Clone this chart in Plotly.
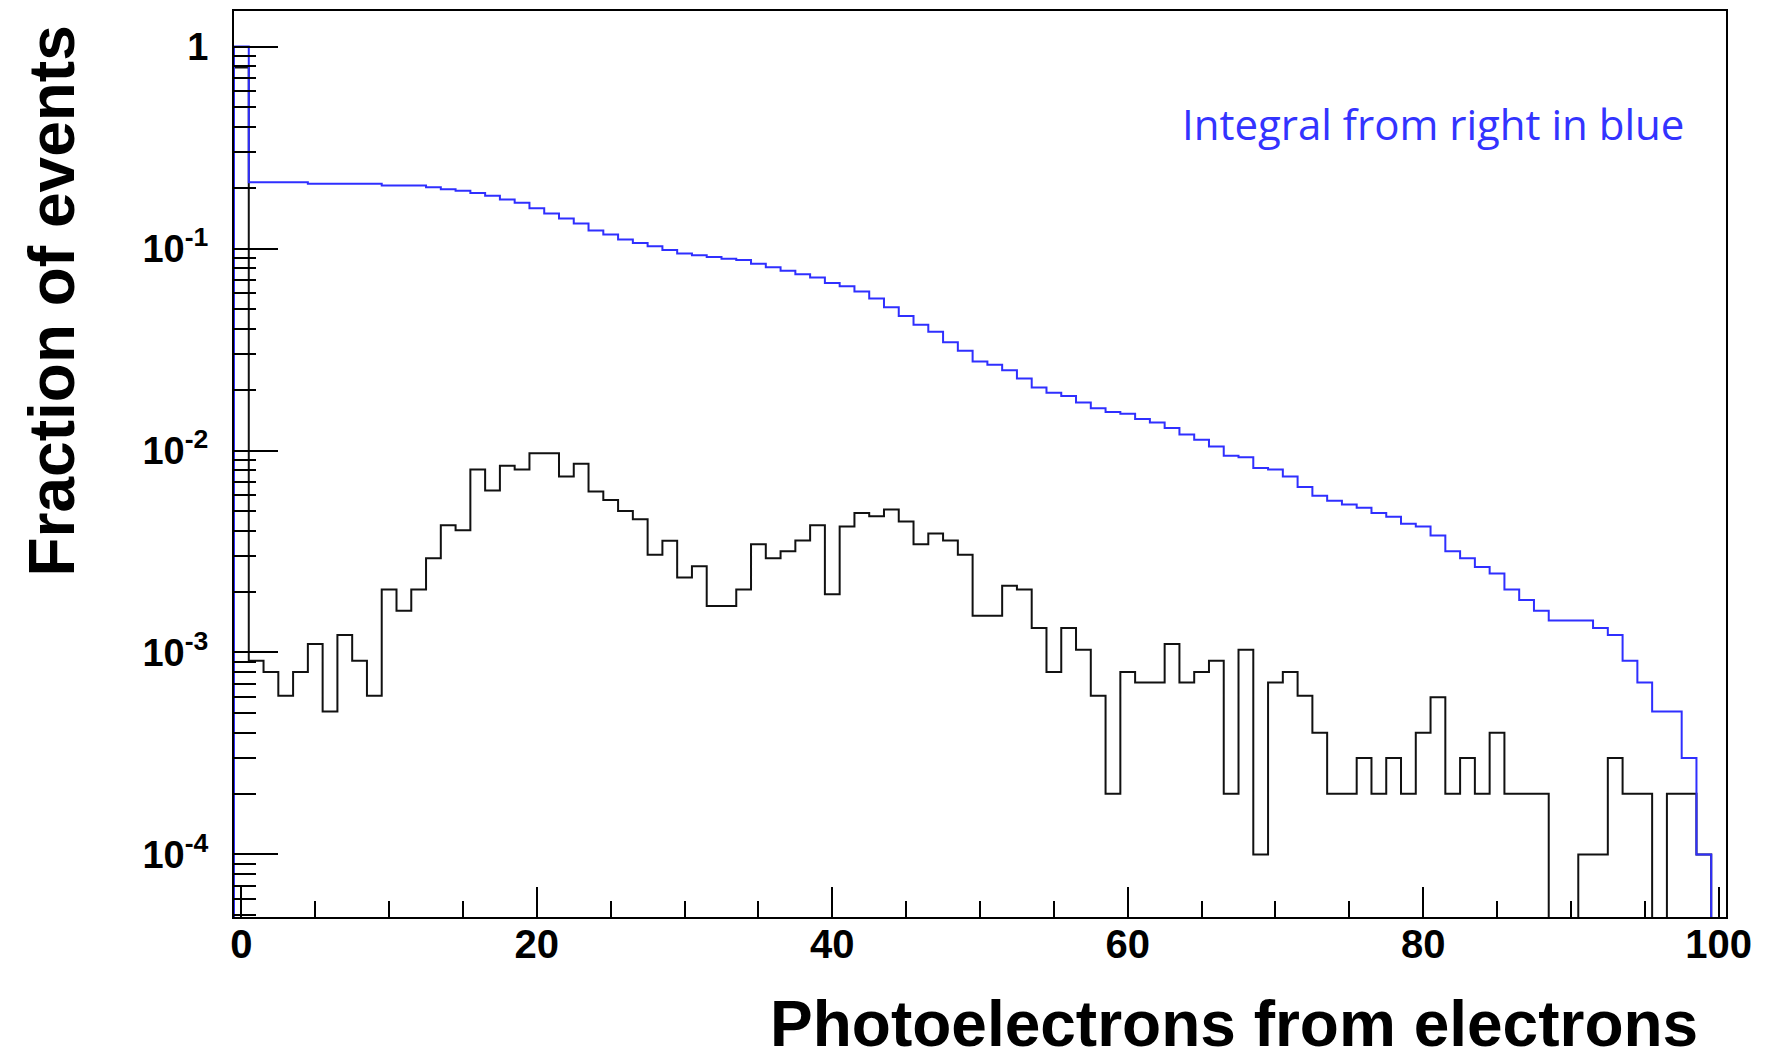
import numpy as np
import plotly.graph_objects as go

# ---------------- data ----------------
# bin centres 0..100, bin width 1
bin_centers = list(range(0, 101))

# Fraction of events per bin (black histogram)
fraction = [
    0.787, 9.1e-4, 8.0e-4, 6.1e-4, 8.0e-4, 1.1e-3, 5.1e-4, 1.22e-3, 9.1e-4, 6.1e-4,   # 0-9
    2.05e-3, 1.61e-3, 2.05e-3, 2.93e-3, 4.26e-3, 4.03e-3, 8.05e-3, 6.34e-3, 8.40e-3, 8.05e-3,  # 10-19
    9.70e-3, 9.70e-3, 7.44e-3, 8.60e-3, 6.27e-3, 5.69e-3, 5.02e-3, 4.56e-3, 3.05e-3, 3.57e-3,  # 20-29
    2.35e-3, 2.67e-3, 1.70e-3, 1.70e-3, 2.05e-3, 3.43e-3, 2.93e-3, 3.17e-3, 3.58e-3, 4.26e-3,  # 30-39
    1.94e-3, 4.20e-3, 4.91e-3, 4.72e-3, 5.11e-3, 4.45e-3, 3.43e-3, 3.88e-3, 3.58e-3, 3.05e-3,  # 40-49
    1.52e-3, 1.52e-3, 2.14e-3, 2.05e-3, 1.32e-3, 8.0e-4, 1.32e-3, 1.03e-3, 6.1e-4, 2.0e-4,    # 50-59
    8.0e-4, 7.1e-4, 7.1e-4, 1.1e-3, 7.1e-4, 8.0e-4, 9.1e-4, 2.0e-4, 1.03e-3, 1.0e-4,          # 60-69
    7.1e-4, 8.0e-4, 6.1e-4, 4.0e-4, 2.0e-4, 2.0e-4, 3.0e-4, 2.0e-4, 3.0e-4, 2.0e-4,           # 70-79
    4.0e-4, 6.0e-4, 2.0e-4, 3.0e-4, 2.0e-4, 4.0e-4, 2.0e-4, 2.0e-4, 2.0e-4, 0.0,              # 80-89
    0.0, 1.0e-4, 1.0e-4, 3.0e-4, 2.0e-4, 2.0e-4, 0.0, 2.0e-4, 2.0e-4, 1.0e-4,                 # 90-99
    0.0,                                                                                        # 100
]

# Integral from the right (blue histogram)
integral_right = [
    1.0, 0.213, 0.213, 0.213, 0.213, 0.209, 0.209, 0.209, 0.209, 0.209,                  # 0-9
    0.205, 0.205, 0.205, 0.2012, 0.1967, 0.1930, 0.1886, 0.1823, 0.1749, 0.1684,         # 10-19
    0.1585, 0.1492, 0.1409, 0.1331, 0.1229, 0.1175, 0.1110, 0.1065, 0.1025, 0.0983,      # 20-29
    0.0946, 0.0925, 0.0908, 0.0891, 0.0877, 0.0841, 0.0807, 0.0777, 0.0746, 0.0718,      # 30-39
    0.0676, 0.0650, 0.0612, 0.0565, 0.0512, 0.0464, 0.0419, 0.0387, 0.0344, 0.0312,      # 40-49
    0.0276, 0.0266, 0.0250, 0.0227, 0.0205, 0.0193, 0.0186, 0.0173, 0.0162, 0.0155,      # 50-59
    0.0152, 0.0143, 0.01375, 0.01294, 0.0120, 0.01129, 0.01047, 0.00941, 0.00927, 0.00818,  # 60-69
    0.00806, 0.00744, 0.00659, 0.00597, 0.00564, 0.00541, 0.00521, 0.00490, 0.00470, 0.00434,  # 70-79
    0.00420, 0.00379, 0.00317, 0.00293, 0.00265, 0.00246, 0.00205, 0.00182, 0.00161, 0.00144,  # 80-89
    0.00144, 0.00144, 0.00132, 0.00122, 0.00091, 0.00071, 0.00051, 0.00051, 0.00030, 0.00010,  # 90-99
    0.0,                                                                                        # 100
]

x_tick_vals = [0, 20, 40, 60, 80, 100]
y_tick_vals = [1e-4, 1e-3, 1e-2, 1e-1, 1]
y_tick_text = ["10<sup>-4</sup>", "10<sup>-3</sup>", "10<sup>-2</sup>", "10<sup>-1</sup>", "1"]

x_title = "Photoelectrons from electrons"
y_title = "Fraction of events"
note_text = "Integral from right in blue"

# ---------------- helpers ----------------
BIN_W = 1.0
FLOOR = 1e-7  # empty bins are drawn down past the bottom of the frame (as ROOT does)


def step_xy(centers, values):
    """Histogram outline from bin contents (starts and ends on the bottom)."""
    c = np.asarray(centers, dtype=float)
    v = np.asarray(values, dtype=float)
    v = np.where(v > 0, v, FLOOR)
    lo = c - BIN_W / 2
    xs = [lo[0]] + list(lo) + [c[-1] + BIN_W / 2, c[-1] + BIN_W / 2]
    ys = [FLOOR] + list(v) + [v[-1], FLOOR]
    return xs, ys


fig = go.Figure()

xb, yb = step_xy(bin_centers, fraction)
fig.add_trace(go.Scatter(x=xb, y=yb, mode="lines", line=dict(color="#111111", width=2, shape="hv"),
                         hoverinfo="skip"))

xi, yi = step_xy(bin_centers, integral_right)
fig.add_trace(go.Scatter(x=xi, y=yi, mode="lines", line=dict(color="#2f2fff", width=2, shape="hv"),
                         hoverinfo="skip"))

FONT = "Liberation Sans, Arial, Helvetica, sans-serif"

fig.update_layout(
    width=1766, height=1060,
    margin=dict(l=234, r=40, t=9, b=143),
    paper_bgcolor="white", plot_bgcolor="white",
    showlegend=False,
    font=dict(family=FONT, color="black"),
)

fig.update_xaxes(
    range=[-0.5, 100.5],
    tickvals=x_tick_vals,
    ticks="inside", ticklen=30, tickwidth=1.5, tickcolor="black",
    minor=dict(dtick=5, tick0=0, ticks="inside", ticklen=16, tickwidth=1.5, tickcolor="black", showgrid=False),
    showgrid=False, zeroline=False,
    showline=True, linecolor="black", linewidth=2, mirror=True,
    tickfont=dict(family=FONT, size=40, color="black", weight="bold"),
    ticklabelstandoff=-9,
)

fig.update_yaxes(
    type="log",
    range=[np.log10(4.9e-5), np.log10(1.5)],
    tickvals=y_tick_vals, ticktext=y_tick_text,
    ticks="inside", ticklen=44, tickwidth=1.5, tickcolor="black",
    minor=dict(dtick="D1", ticks="inside", ticklen=22, tickwidth=1.5, tickcolor="black", showgrid=False),
    showgrid=False, zeroline=False,
    showline=True, linecolor="black", linewidth=2, mirror=True,
    tickfont=dict(family=FONT, size=38, color="black", weight="bold"),
    ticklabelstandoff=16,
)

fig.add_annotation(
    text=x_title, xref="paper", yref="paper",
    x=(1700 - 234) / 1492, y=(917 - 1024) / 908,
    xanchor="right", yanchor="middle", showarrow=False,
    font=dict(family=FONT, size=64, color="black", weight="bold"),
)
fig.add_annotation(
    text=y_title, xref="paper", yref="paper",
    x=(52 - 234) / 1492, y=(917 - 22) / 908,
    xanchor="center", yanchor="top", textangle=-90, showarrow=False,
    font=dict(family=FONT, size=64, color="black", weight="bold"),
)
fig.add_annotation(
    text=note_text, xref="paper", yref="paper",
    x=(1686 - 234) / 1492, y=(917 - 122) / 908,
    xanchor="right", yanchor="middle", showarrow=False,
    font=dict(family="Open Sans, Noto Sans, sans-serif", size=42, color="#3333ff"),
)

fig.write_html("out.html")
